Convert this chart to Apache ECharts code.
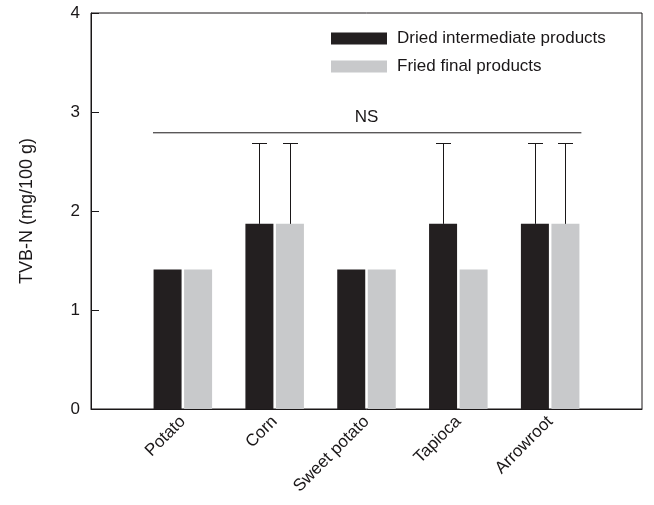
<!DOCTYPE html>
<html><head><meta charset="utf-8">
<script src="https://cdn.jsdelivr.net/npm/echarts@6/dist/echarts.min.js"></script>
<style>html,body{margin:0;padding:0;background:#fff}#c{width:654px;height:505px}</style>
</head><body><div id="c"></div>
<script>
const categories = ['Potato', 'Corn', 'Sweet potato', 'Tapioca', 'Arrowroot'];
const categoryPos = [1, 2, 3, 4, 5];
const dried = [1.41, 1.87, 1.41, 1.87, 1.87];
const fried = [1.41, 1.87, 1.41, 1.41, 1.87];
const driedErr = [null, 0.82, null, 0.82, 0.82];
const friedErr = [null, 0.82, null, null, 0.82];
const yTicks = [0, 1, 2, 3, 4];
const nsLine = [[0.675, 2.79], [5.34, 2.79]];
const nsLabel = [[3, 2.79]];

const FONT = 'Liberation Sans, Arial, sans-serif';
const INK = '#1a1718';
const chart = echarts.init(document.getElementById('c'));
const BAR_OFF = 15.25;

function errSeries(name, vals, errs, sign) {
  const data = [];
  categoryPos.forEach((x, i) => { if (errs[i] != null) data.push([x, vals[i], vals[i] + errs[i]]); });
  return {
    type: 'custom', name: name + '_err', silent: true, z: 5,
    renderItem: function (params, api) {
      const base = api.coord([api.value(0), api.value(1)]);
      const top = api.coord([api.value(0), api.value(2)]);
      const cx = Math.round(base[0] + sign * BAR_OFF) + 0.5;
      const ty = Math.round(top[1]) + 0.5;
      return {
        type: 'group', children: [
          { type: 'line', shape: { x1: cx, y1: base[1], x2: cx, y2: ty }, style: { stroke: INK, lineWidth: 1 } },
          { type: 'line', shape: { x1: cx - 7.5, y1: ty, x2: cx + 7.5, y2: ty }, style: { stroke: INK, lineWidth: 1 } }
        ]
      };
    },
    data: data
  };
}

chart.setOption({
  animation: false,
  textStyle: { fontFamily: FONT },
  grid: { left: 91, right: 12, top: 13, bottom: 96, show: true, borderColor: INK, borderWidth: 1, backgroundColor: 'transparent' },
  legend: {
    orient: 'vertical', left: 331, top: 30, padding: 0, itemWidth: 56, itemHeight: 12, itemGap: 11,
    icon: 'rect', textStyle: { fontSize: 17, color: INK, fontFamily: FONT, padding: [0, 0, 0, 5] },
    data: ['Dried intermediate products', 'Fried final products']
  },
  xAxis: {
    type: 'value', min: 0, max: 6, interval: 1,
    splitLine: { show: false },
    axisLine: { show: true, lineStyle: { color: INK, width: 1 } },
    axisTick: { show: false },
    axisLabel: {
      rotate: 45, fontSize: 17, color: INK, margin: 10, fontFamily: FONT,
      formatter: function (v) { const i = categoryPos.indexOf(v); return i >= 0 ? categories[i] : ''; }
    }
  },
  yAxis: {
    type: 'value', min: yTicks[0], max: yTicks[yTicks.length - 1], interval: 1,
    name: 'TVB-N (mg/100 g)', nameLocation: 'middle', nameGap: 55,
    nameTextStyle: { fontSize: 18, color: INK, fontFamily: FONT },
    splitLine: { show: false },
    axisLine: { show: true, lineStyle: { color: INK, width: 1 } },
    axisTick: { show: true, inside: true, length: 8, lineStyle: { color: INK } },
    axisLabel: { fontSize: 17, color: INK, margin: 11, padding: [4, 0, 0, 0], fontFamily: FONT }
  },
  series: [
    { type: 'bar', name: 'Dried intermediate products', barWidth: 28, barGap: '9%', itemStyle: { color: '#231f20' },
      data: categoryPos.map((x, i) => [x, dried[i]]) },
    { type: 'bar', name: 'Fried final products', barWidth: 28, barGap: '9%', itemStyle: { color: '#c8c9cb' },
      data: categoryPos.map((x, i) => [x, fried[i]]) },
    errSeries('dried', dried, driedErr, -1),
    errSeries('fried', fried, friedErr, 1),
    { type: 'line', data: nsLine, symbol: 'none', silent: true, lineStyle: { color: INK, width: 1 } },
    { type: 'scatter', data: nsLabel, symbolSize: 0, silent: true, itemStyle: { opacity: 1 },
      label: { show: true, position: 'top', distance: 7, formatter: 'NS', fontSize: 17, color: INK, fontFamily: FONT } }
  ]
});
</script></body></html>
